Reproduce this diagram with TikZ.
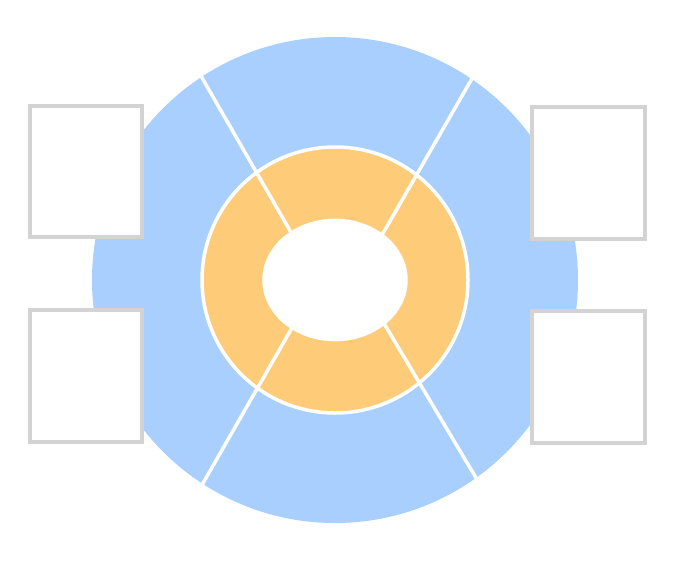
\documentclass[tikz,border=0pt]{standalone}
\definecolor{wheelblue}{RGB}{168,207,253}
\definecolor{ringorange}{RGB}{254,204,120}
\definecolor{slotgray}{RGB}{211,211,211}
\tikzset{
  divider/.style={white, line width=3.5pt},
  boxslot/.style={draw=slotgray, fill=white, line width=4pt, inner sep=0pt,
    minimum width=112.5pt, minimum height=131.5pt}
}
\begin{document}
\begin{tikzpicture}[x=1pt, y=-1pt]
\def\cx{335};
\def\cy{280};
\def\rwheel{243pt};
\def\rring{133pt};

\useasboundingbox (0,0) rectangle (676,560);

\coordinate (c) at (\cx, \cy);
\fill[wheelblue] (c) circle (\rwheel);
\draw[fill=ringorange, draw=white, line width=3.5pt] (c) circle (\rring);

% dividers
\draw[divider] (188.9, 55) -- (318.4, \cy);
\draw[divider] (485.5, 55) -- (356.1, \cy);
\draw[divider] (190.5, 505) -- (319.3, \cy);
\draw[divider] (492.2, 505) -- (358.1, \cy);

\fill[white] (c) ellipse [x radius=72.7pt, y radius=61.3pt];

\node[boxslot] (lt) at (85.75, 171.5) {};
\node[boxslot] (lb) at (85.75, 375.75) {};
\node[boxslot] (rt) at (588.3, 173.2) {};
\node[boxslot] (rb) at (588.3, 377.2) {};

\end{tikzpicture}
\end{document}
